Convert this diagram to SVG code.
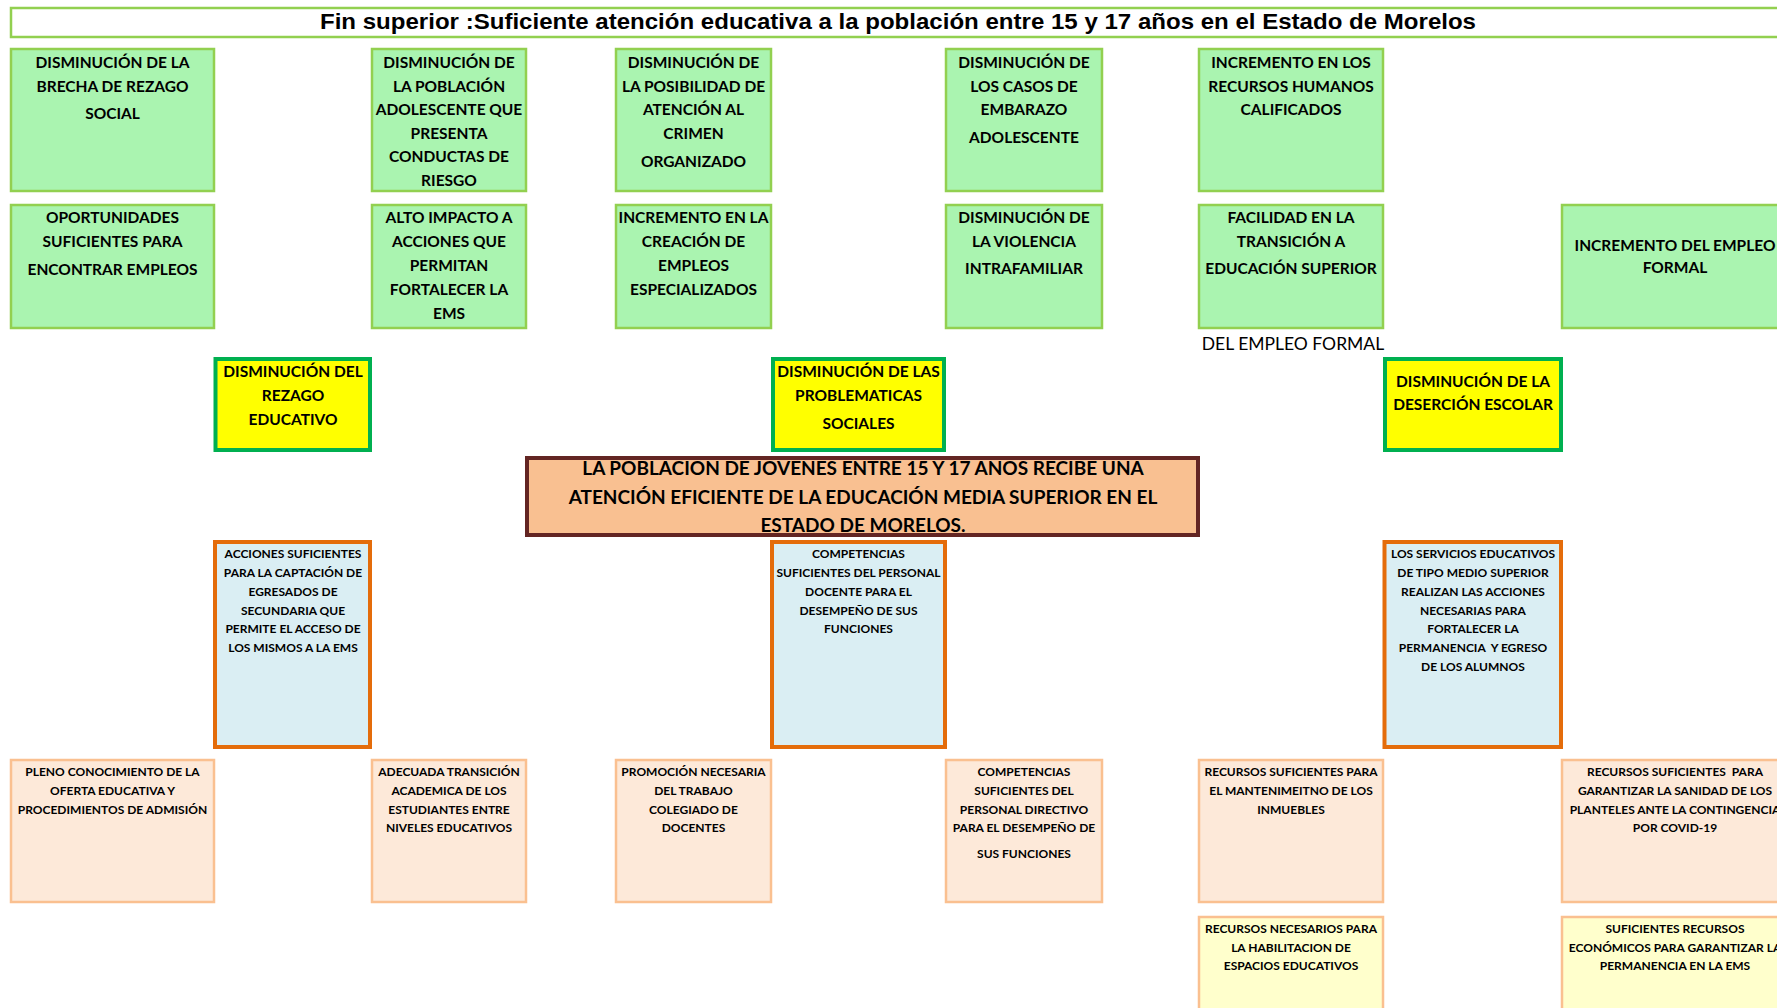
<svg xmlns="http://www.w3.org/2000/svg" width="1777" height="1008" viewBox="0 0 1777 1008">
<style>
.g{fill:#aaf4b0;stroke:#92d050;stroke-width:2.5}
.y{fill:#ffff00;stroke:#00b050;stroke-width:4}
.b{fill:#daeef3;stroke:#e46c0a;stroke-width:4}
.p{fill:#fde9d9;stroke:#fac090;stroke-width:2.5}
.q{fill:#ffffcc;stroke:#fac090;stroke-width:2.5}
.c{fill:#f9c091;stroke:#632523;stroke-width:4}
text{font-family:Lato,"Open Sans","Liberation Sans",sans-serif;font-weight:bold;fill:#000;text-anchor:middle}
.t16{font-size:15.5px}
.t12{font-size:12px}
.t19{font-size:19px}
.n{font-weight:normal;font-size:17.5px}
.ti{font-family:"Liberation Sans",Arial,sans-serif;font-size:22px;text-anchor:start}
</style>
<defs>
<clipPath id="cc"><rect x="529" y="460" width="667" height="73"/></clipPath>
</defs>
<rect width="1777" height="1008" fill="#fff"/>
<g id="title">
<rect x="11" y="8" width="1790" height="29" fill="#fff" stroke="#92d050" stroke-width="2.5"/>
<text class="ti" x="320" y="28.5" textLength="1156" lengthAdjust="spacingAndGlyphs">Fin superior :Suficiente atención educativa a la población entre 15 y 17 años en el Estado de Morelos</text>
</g>
<g id="connectors"/>
<!-- Row 1 -->
<g id="n-brecha"><rect class="g" x="11" y="49" width="203" height="142"/>
<text class="t16" x="112.5" y="68">DISMINUCIÓN DE LA</text><text class="t16" x="112.5" y="91.5">BRECHA DE REZAGO</text><text class="t16" x="112.5" y="119">SOCIAL</text></g>
<g id="n-adolescente"><rect class="g" x="372" y="49" width="154" height="142"/>
<text class="t16" x="449" y="68">DISMINUCIÓN DE</text><text class="t16" x="449" y="91.5">LA POBLACIÓN</text><text class="t16" x="449" y="115">ADOLESCENTE QUE</text><text class="t16" x="449" y="138.5">PRESENTA</text><text class="t16" x="449" y="162">CONDUCTAS DE</text><text class="t16" x="449" y="185.5">RIESGO</text></g>
<g id="n-crimen"><rect class="g" x="616" y="49" width="155" height="142"/>
<text class="t16" x="693.5" y="68">DISMINUCIÓN DE</text><text class="t16" x="693.5" y="91.5">LA POSIBILIDAD DE</text><text class="t16" x="693.5" y="115">ATENCIÓN AL</text><text class="t16" x="693.5" y="138.5">CRIMEN</text><text class="t16" x="693.5" y="167">ORGANIZADO</text></g>
<g id="n-embarazo"><rect class="g" x="946" y="49" width="156" height="142"/>
<text class="t16" x="1024" y="68">DISMINUCIÓN DE</text><text class="t16" x="1024" y="91.5">LOS CASOS DE</text><text class="t16" x="1024" y="115">EMBARAZO</text><text class="t16" x="1024" y="143">ADOLESCENTE</text></g>
<g id="n-rrhh"><rect class="g" x="1199" y="49" width="184" height="142"/>
<text class="t16" x="1291" y="68">INCREMENTO EN LOS</text><text class="t16" x="1291" y="91.5">RECURSOS HUMANOS</text><text class="t16" x="1291" y="115">CALIFICADOS</text></g>
<!-- Row 2 -->
<g id="n-oportunidades"><rect class="g" x="11" y="205" width="203" height="123"/>
<text class="t16" x="112.5" y="223">OPORTUNIDADES</text><text class="t16" x="112.5" y="247">SUFICIENTES PARA</text><text class="t16" x="112.5" y="275">ENCONTRAR EMPLEOS</text></g>
<g id="n-impacto"><rect class="g" x="372" y="205" width="154" height="123"/>
<text class="t16" x="449" y="223">ALTO IMPACTO A</text><text class="t16" x="449" y="247">ACCIONES QUE</text><text class="t16" x="449" y="271">PERMITAN</text><text class="t16" x="449" y="295">FORTALECER LA</text><text class="t16" x="449" y="318.5">EMS</text></g>
<g id="n-creacion"><rect class="g" x="616" y="205" width="155" height="123"/>
<text class="t16" x="693.5" y="223">INCREMENTO EN LA</text><text class="t16" x="693.5" y="247">CREACIÓN DE</text><text class="t16" x="693.5" y="271">EMPLEOS</text><text class="t16" x="693.5" y="295">ESPECIALIZADOS</text></g>
<g id="n-violencia"><rect class="g" x="946" y="205" width="156" height="123"/>
<text class="t16" x="1024" y="223">DISMINUCIÓN DE</text><text class="t16" x="1024" y="247">LA VIOLENCIA</text><text class="t16" x="1024" y="274">INTRAFAMILIAR</text></g>
<g id="n-transicion"><rect class="g" x="1199" y="205" width="184" height="123"/>
<text class="t16" x="1291" y="223">FACILIDAD EN LA</text><text class="t16" x="1291" y="247">TRANSICIÓN A</text><text class="t16" x="1291" y="274">EDUCACIÓN SUPERIOR</text></g>
<g id="n-empleo"><rect class="g" x="1562" y="205" width="230" height="123"/>
<text class="t16" x="1675" y="251">INCREMENTO DEL EMPLEO</text><text class="t16" x="1675" y="273">FORMAL</text></g>
<text class="n" x="1293" y="350">DEL EMPLEO FORMAL</text>
<!-- Yellow -->
<g id="n-rezago"><rect class="y" x="215.5" y="359" width="154.5" height="91"/>
<text class="t16" x="293" y="377">DISMINUCIÓN DEL</text><text class="t16" x="293" y="401">REZAGO</text><text class="t16" x="293" y="425">EDUCATIVO</text></g>
<g id="n-problematicas"><rect class="y" x="773" y="359" width="171" height="91"/>
<text class="t16" x="858.5" y="377">DISMINUCIÓN DE LAS</text><text class="t16" x="858.5" y="401">PROBLEMATICAS</text><text class="t16" x="858.5" y="429">SOCIALES</text></g>
<g id="n-desercion"><rect class="y" x="1385" y="359" width="176" height="91"/>
<text class="t16" x="1473" y="386.5">DISMINUCIÓN DE LA</text><text class="t16" x="1473" y="410">DESERCIÓN ESCOLAR</text></g>
<!-- Central -->
<g id="n-central"><rect x="527" y="458" width="671" height="77" fill="#f9c091"/>
<g clip-path="url(#cc)"><text class="t19" x="863" y="475">LA POBLACIÓN DE JÓVENES ENTRE 15 Y 17 AÑOS RECIBE UNA</text></g>
<text class="t19" x="863" y="503.5">ATENCIÓN EFICIENTE DE LA EDUCACIÓN MEDIA SUPERIOR EN EL</text><text class="t19" x="863" y="532">ESTADO DE MORELOS.</text>
<rect x="527" y="458" width="671" height="77" fill="none" stroke="#632523" stroke-width="4"/></g>
<!-- Blue -->
<g id="n-captacion"><rect class="b" x="215" y="542" width="155" height="205"/>
<text class="t12" x="293" y="558">ACCIONES SUFICIENTES</text><text class="t12" x="293" y="577">PARA LA CAPTACIÓN DE</text><text class="t12" x="293" y="595.5">EGRESADOS DE</text><text class="t12" x="293" y="614.5">SECUNDARIA QUE</text><text class="t12" x="293" y="633">PERMITE EL ACCESO DE</text><text class="t12" x="293" y="652">LOS MISMOS A LA EMS</text></g>
<g id="n-docente"><rect class="b" x="772" y="542" width="173" height="205"/>
<text class="t12" x="858.5" y="558">COMPETENCIAS</text><text class="t12" x="858.5" y="577">SUFICIENTES DEL PERSONAL</text><text class="t12" x="858.5" y="595.5">DOCENTE PARA EL</text><text class="t12" x="858.5" y="614.5">DESEMPEÑO DE SUS</text><text class="t12" x="858.5" y="633">FUNCIONES</text></g>
<g id="n-servicios"><rect class="b" x="1384.5" y="542" width="176.5" height="205"/>
<text class="t12" x="1473" y="558">LOS SERVICIOS EDUCATIVOS</text><text class="t12" x="1473" y="577">DE TIPO MEDIO SUPERIOR</text><text class="t12" x="1473" y="595.5">REALIZAN LAS ACCIONES</text><text class="t12" x="1473" y="614.5">NECESARIAS PARA</text><text class="t12" x="1473" y="633">FORTALECER LA</text><text class="t12" x="1473" y="652" xml:space="preserve">PERMANENCIA  Y EGRESO</text><text class="t12" x="1473" y="670.5">DE LOS ALUMNOS</text></g>
<!-- Bottom row -->
<g id="n-oferta"><rect class="p" x="11" y="760" width="203" height="142"/>
<text class="t12" x="112.5" y="776">PLENO CONOCIMIENTO DE LA</text><text class="t12" x="112.5" y="795">OFERTA EDUCATIVA Y</text><text class="t12" x="112.5" y="813.5">PROCEDIMIENTOS DE ADMISIÓN</text></g>
<g id="n-niveles"><rect class="p" x="372" y="760" width="154" height="142"/>
<text class="t12" x="449" y="776">ADECUADA TRANSICIÓN</text><text class="t12" x="449" y="795">ACADEMICA DE LOS</text><text class="t12" x="449" y="813.5">ESTUDIANTES ENTRE</text><text class="t12" x="449" y="832">NIVELES EDUCATIVOS</text></g>
<g id="n-colegiado"><rect class="p" x="616" y="760" width="155" height="142"/>
<text class="t12" x="693.5" y="776">PROMOCIÓN NECESARIA</text><text class="t12" x="693.5" y="795">DEL TRABAJO</text><text class="t12" x="693.5" y="813.5">COLEGIADO DE</text><text class="t12" x="693.5" y="832">DOCENTES</text></g>
<g id="n-directivo"><rect class="p" x="946" y="760" width="156" height="142"/>
<text class="t12" x="1024" y="776">COMPETENCIAS</text><text class="t12" x="1024" y="795">SUFICIENTES DEL</text><text class="t12" x="1024" y="813.5">PERSONAL DIRECTIVO</text><text class="t12" x="1024" y="832">PARA EL DESEMPEÑO DE</text><text class="t12" x="1024" y="858">SUS FUNCIONES</text></g>
<g id="n-inmuebles"><rect class="p" x="1199" y="760" width="184" height="142"/>
<text class="t12" x="1291" y="776">RECURSOS SUFICIENTES PARA</text><text class="t12" x="1291" y="795">EL MANTENIMEITNO DE LOS</text><text class="t12" x="1291" y="813.5">INMUEBLES</text></g>
<g id="n-covid"><rect class="p" x="1562" y="760" width="230" height="142"/>
<text class="t12" x="1675" y="776" xml:space="preserve">RECURSOS SUFICIENTES  PARA</text><text class="t12" x="1675" y="795">GARANTIZAR LA SANIDAD DE LOS</text><text class="t12" x="1675" y="813.5">PLANTELES ANTE LA CONTINGENCIA</text><text class="t12" x="1675" y="832">POR COVID-19</text></g>
<!-- Last row -->
<g id="n-espacios"><rect class="q" x="1199" y="917" width="184" height="120"/>
<text class="t12" x="1291" y="933">RECURSOS NECESARIOS PARA</text><text class="t12" x="1291" y="951.5">LA HABILITACION DE</text><text class="t12" x="1291" y="970">ESPACIOS EDUCATIVOS</text></g>
<g id="n-economicos"><rect class="q" x="1562" y="917" width="230" height="120"/>
<text class="t12" x="1675" y="933">SUFICIENTES RECURSOS</text><text class="t12" x="1675" y="951.5">ECONÓMICOS PARA GARANTIZAR LA</text><text class="t12" x="1675" y="970">PERMANENCIA EN LA EMS</text></g>
</svg>
